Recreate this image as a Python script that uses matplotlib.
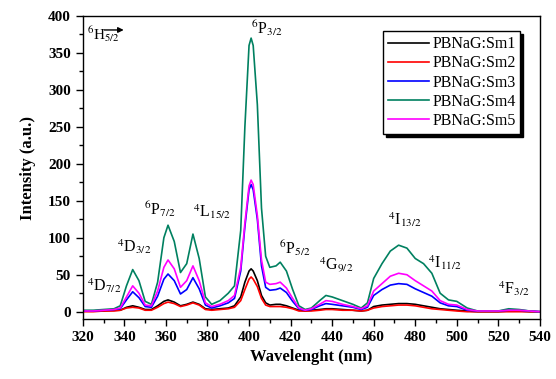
import matplotlib
matplotlib.use("Agg")
import matplotlib.pyplot as plt
from matplotlib.ticker import MultipleLocator

plt.rcParams['font.family'] = ['Liberation Serif', 'DejaVu Serif']
plt.rcParams['mathtext.fontset'] = 'stix'

wavelength = [320, 325, 330, 335, 338, 341, 344, 347, 350, 353, 356, 359, 361, 364, 367,
              370, 373, 376, 379, 382, 386, 390, 393, 396, 398, 400, 401, 402, 404, 406,
              408, 410, 413, 415, 418, 421, 424, 427, 430, 434, 437, 440, 445, 450, 454,
              457, 460, 464, 468, 472, 476, 480, 484, 488, 492, 496, 500, 505, 510, 515,
              520, 525, 530, 535, 540]

sm1 = [1, 1, 1, 2, 2, 6, 8, 6, 3, 3, 8, 14, 16, 13, 8,
       10, 13, 10, 4, 3, 4, 5, 8, 20, 40, 55, 58, 55, 42, 22,
       12, 9, 10, 10, 8, 5, 2, 1, 2, 3, 4, 4, 3, 2, 1,
       2, 7, 9, 10, 11, 11, 10, 8, 6, 4, 3, 2, 1, 0, 0,
       0, 1, 1, 0, 0]
sm2 = [0, 0, 1, 1, 2, 5, 6, 5, 2, 2, 6, 11, 13, 11, 7,
       9, 12, 9, 3, 2, 3, 4, 6, 15, 30, 44, 47, 44, 34, 18,
       9, 7, 7, 7, 6, 4, 1, 1, 1, 2, 3, 3, 2, 2, 1,
       2, 5, 7, 8, 9, 9, 8, 6, 4, 3, 2, 1, 0, 0, 0,
       0, 0, 0, 0, 0]
sm3 = [1, 1, 2, 3, 4, 16, 27, 19, 7, 6, 21, 44, 51, 42, 24,
       30, 46, 31, 9, 5, 8, 12, 18, 55, 115, 165, 172, 165, 125, 62,
       33, 29, 30, 32, 26, 14, 4, 2, 3, 8, 11, 10, 8, 6, 3,
       6, 22, 30, 36, 38, 37, 31, 26, 21, 12, 8, 7, 2, 1, 1,
       1, 2, 2, 1, 0]
sm4 = [2, 2, 3, 4, 8, 35, 57, 42, 14, 10, 40, 100, 117, 95, 53,
       65, 105, 72, 20, 10, 15, 25, 35, 110, 250, 360, 370, 360, 280, 140,
       75, 60, 62, 67, 55, 30, 8, 3, 5, 15, 22, 20, 15, 10, 5,
       12, 45, 65, 82, 90, 86, 72, 65, 52, 25, 16, 14, 5, 1, 1,
       1, 4, 3, 1, 0]
sm5 = [1, 1, 2, 3, 5, 20, 35, 25, 9, 8, 28, 60, 70, 58, 33,
       42, 62, 42, 12, 7, 10, 15, 22, 60, 120, 170, 178, 172, 130, 70,
       40, 37, 38, 40, 32, 18, 5, 2, 4, 10, 15, 14, 10, 7, 4,
       8, 28, 38, 48, 52, 50, 42, 35, 28, 15, 10, 9, 3, 1, 1,
       1, 2, 2, 1, 0]

series = [("PBNaG:Sm1", sm1, "#000000"),
          ("PBNaG:Sm2", sm2, "#ff0000"),
          ("PBNaG:Sm3", sm3, "#0000ff"),
          ("PBNaG:Sm4", sm4, "#008060"),
          ("PBNaG:Sm5", sm5, "#ff00ff")]

labels = [r"$^4$D$_{7/2}$", r"$^4$D$_{3/2}$", r"$^6$P$_{7/2}$", r"$^4$L$_{15/2}$",
          r"$^6$P$_{3/2}$", r"$^6$P$_{5/2}$", r"$^4$G$_{9/2}$", r"$^4$I$_{13/2}$",
          r"$^4$I$_{11/2}$", r"$^4$F$_{3/2}$"]
label_x = [322, 336.5, 349.5, 373, 401, 414.5, 433.5, 467, 486, 520]
label_y = [22, 75, 125, 123, 370, 72, 49, 112, 54, 18]

fig = plt.figure(figsize=(5.56, 3.79), dpi=100)
ax = fig.add_axes([0.149, 0.158, 0.822, 0.800])

for name, vals, col in series:
    ax.plot(wavelength, vals, color=col, lw=1.2, label=name)

ax.set_xlim(320, 540)
ax.set_ylim(-10, 400)
ax.xaxis.set_major_locator(MultipleLocator(20))
ax.xaxis.set_minor_locator(MultipleLocator(10))
ax.yaxis.set_major_locator(MultipleLocator(50))
ax.yaxis.set_minor_locator(MultipleLocator(25))
ax.tick_params(which='major', direction='out', length=5, width=1, labelsize=11)
ax.tick_params(which='minor', direction='out', length=3, width=1)
for lab in ax.get_xticklabels() + ax.get_yticklabels():
    lab.set_fontweight('bold')
for sp in ax.spines.values():
    sp.set_linewidth(1.0)

ax.set_xlabel("Wavelenght (nm)", fontsize=12, fontweight='bold')
ax.set_ylabel("Intensity (a.u.)", fontsize=12, fontweight='bold', labelpad=9)

for t, x, y in zip(labels, label_x, label_y):
    ax.text(x, y, t, fontsize=11.5, ha='left', va='bottom')

ax.text(322, 375, r"$^6$H$_{5/2}$", fontsize=11, ha='left', va='center')
ax.annotate("", xy=(341, 381), xytext=(329, 381),
            arrowprops=dict(arrowstyle='-|>', color='black', lw=1, mutation_scale=8))

leg = ax.legend(loc='upper right', bbox_to_anchor=(0.975, 0.975), fontsize=11.5,
                handlelength=2.6, handletextpad=0.2, labelspacing=0.2,
                fancybox=False, shadow={'color': 'black', 'alpha': 1.0},
                edgecolor='black', framealpha=1, borderpad=0.3)
leg.get_frame().set_linewidth(1.0)

fig.savefig("out.png", dpi=100)
